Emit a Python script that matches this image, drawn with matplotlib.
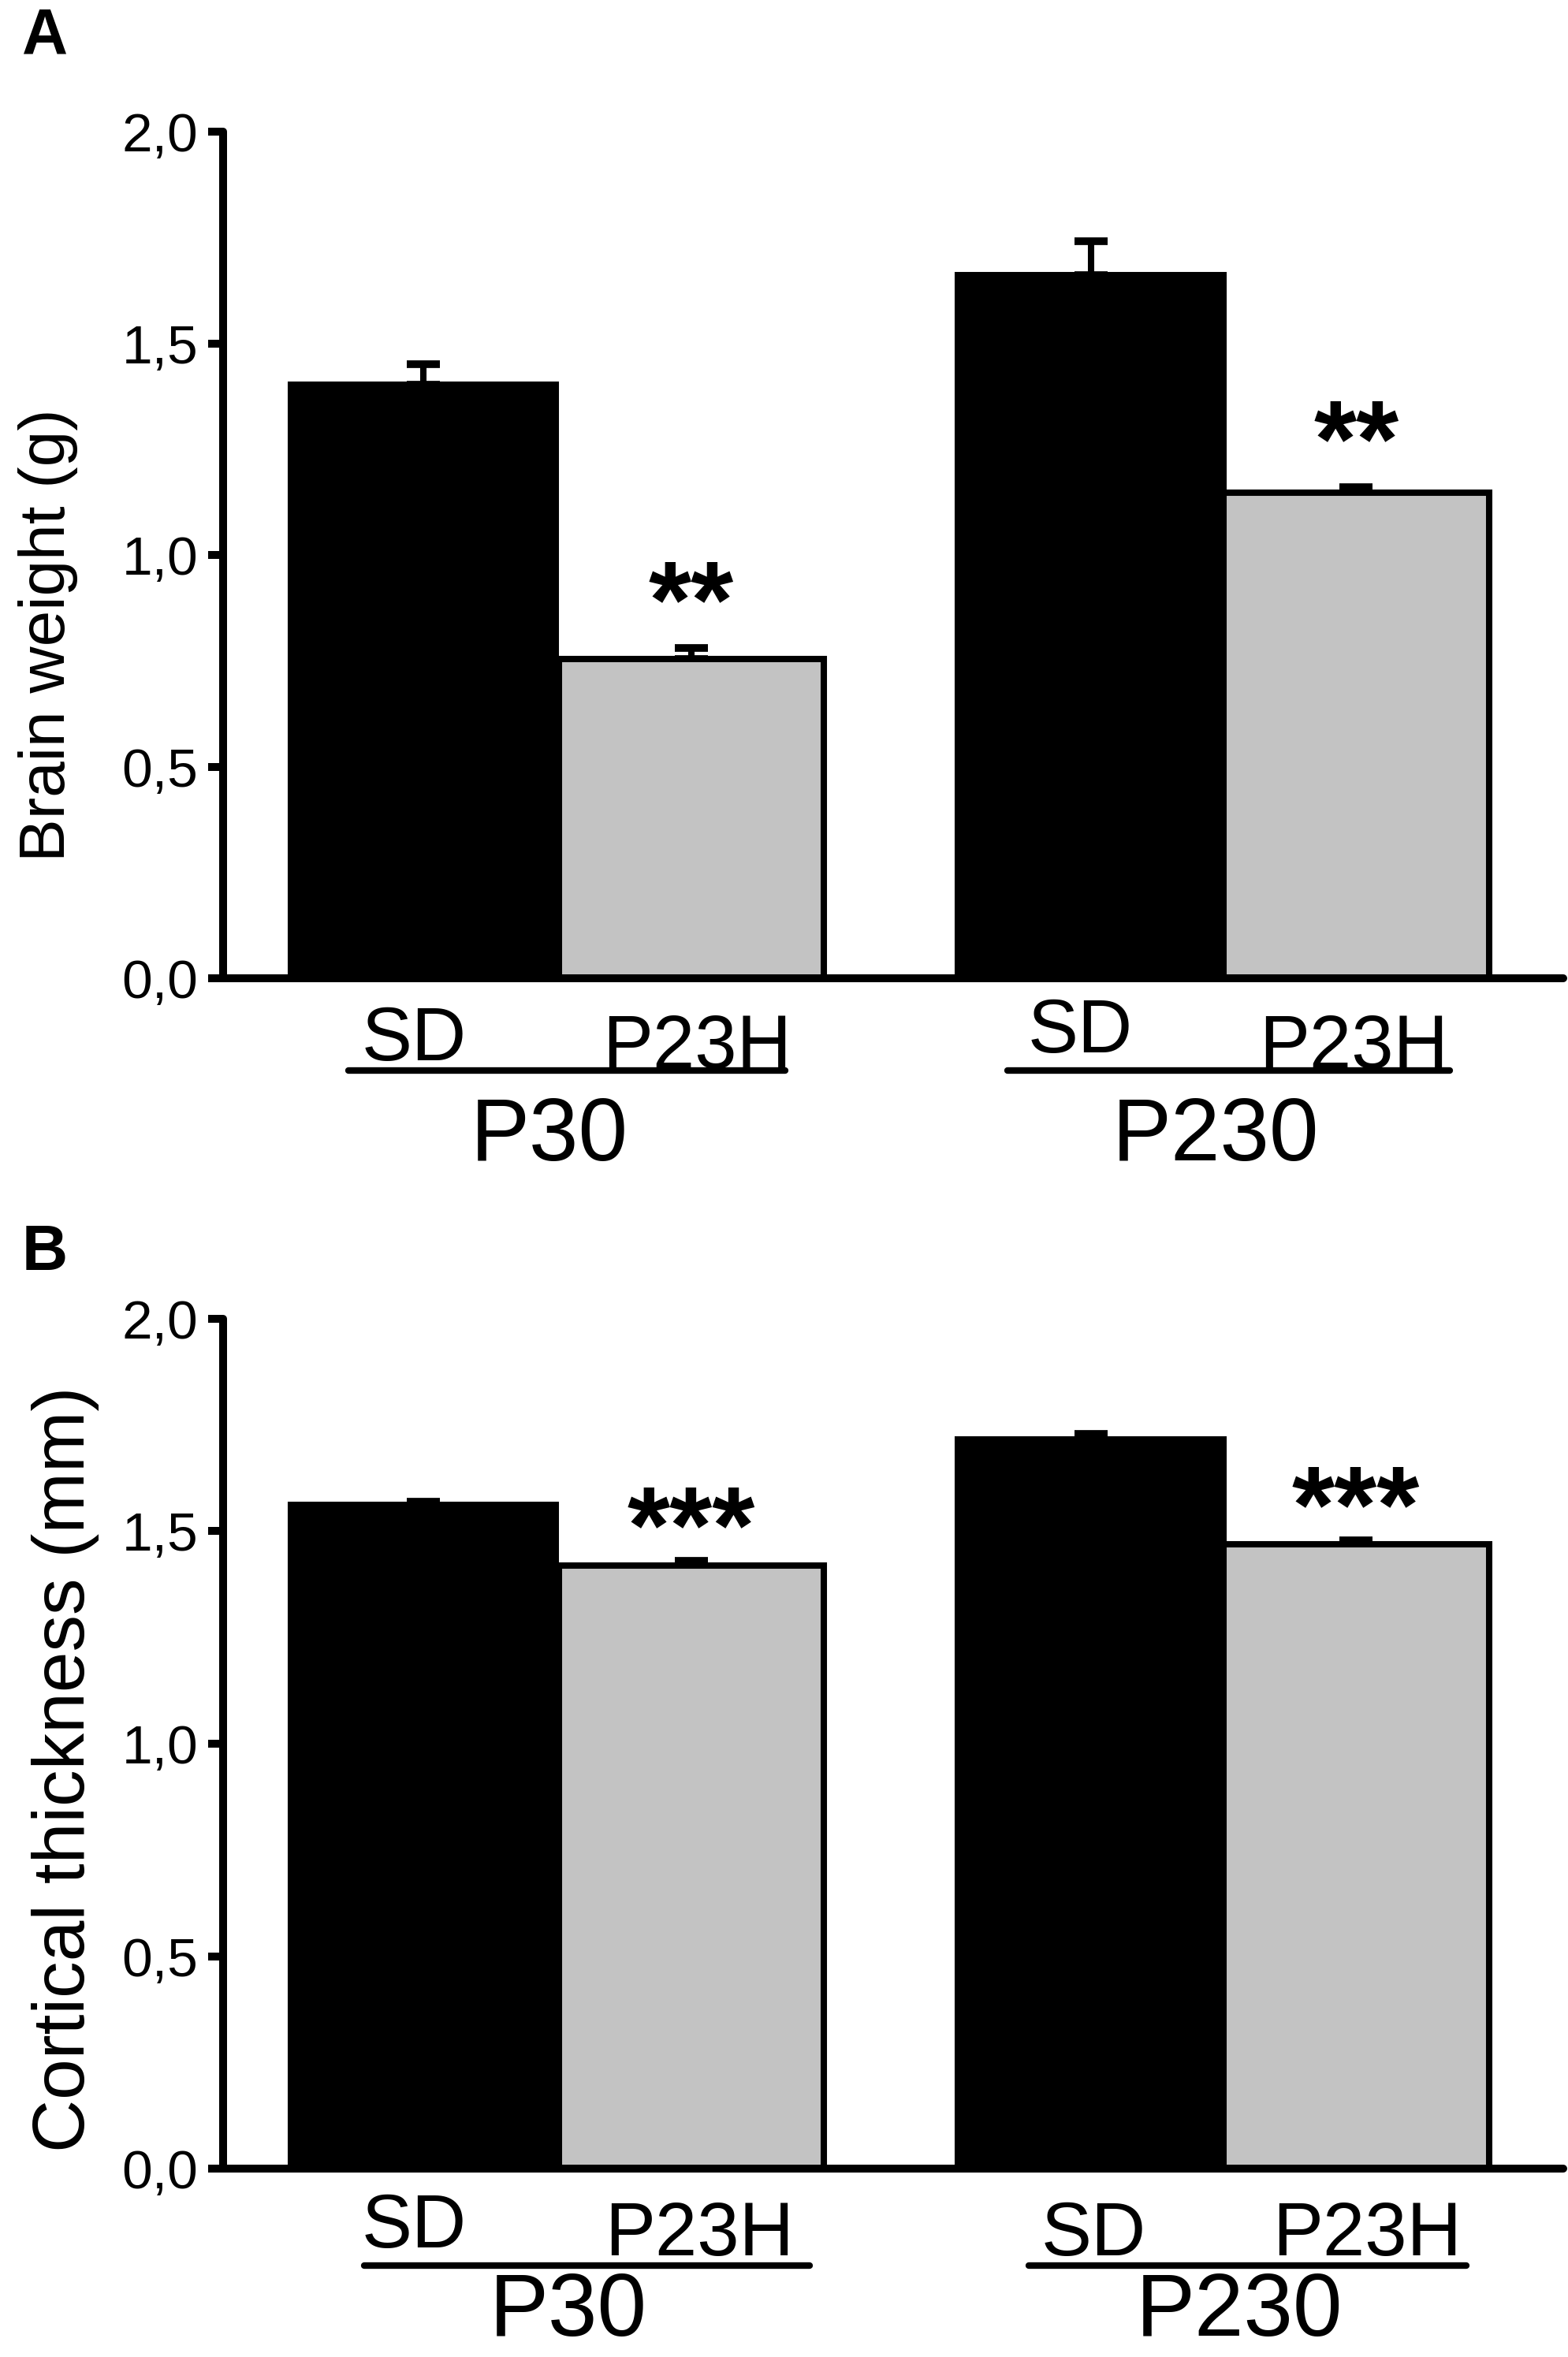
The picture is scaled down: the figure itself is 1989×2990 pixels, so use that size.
import matplotlib
matplotlib.use("Agg")
import matplotlib.pyplot as plt
from matplotlib.transforms import blended_transform_factory

plt.rcParams["font.family"] = ["Liberation Sans", "DejaVu Sans"]

# data
groups = ["P30", "P230"]
strains = ["SD", "P23H", "SD", "P23H"]
bar_x = [0.0, 1.0, 2.49, 3.48]
bar_colors = ["black", "#c3c3c3", "black", "#c3c3c3"]

brain_mean = [1.402, 0.755, 1.662, 1.147]
brain_sem = [0.048, 0.025, 0.080, 0.013]
brain_stars = ["", "**", "", "**"]

cortex_mean = [1.562, 1.419, 1.716, 1.469]
cortex_sem = [0.008, 0.012, 0.013, 0.010]
cortex_stars = ["", "***", "", "***"]

yticks = [0.0, 0.5, 1.0, 1.5, 2.0]
ytick_labels = ["0,0", "0,5", "1,0", "1,5", "2,0"]


def draw_panel(ax, means, sems, stars, ylabel, lab):
    ax.bar(bar_x, means, width=0.99, color=bar_colors, edgecolor="black",
           linewidth=5.8, zorder=2)
    ax.errorbar(bar_x, means, yerr=[[0] * len(sems), sems], fmt="none",
                ecolor="black", elinewidth=5.8, capsize=15, capthick=7,
                zorder=1)

    # significance stars above the P23H bars
    for x, m, s, st in zip(bar_x, means, sems, stars):
        if st:
            ax.annotate(st, (x, m + s), xytext=(0, lab["star_off"]),
                        textcoords="offset points", ha="center",
                        va="baseline", fontsize=100, fontweight="bold")

    ax.set_xlim(-0.747, 4.253)
    ax.set_ylim(0, 2.0)
    ax.set_xticks([])
    ax.set_yticks(yticks)
    ax.set_yticklabels(ytick_labels, fontsize=50)
    ax.tick_params(axis="y", length=14, width=7.2, pad=9)
    for side in ["top", "right"]:
        ax.spines[side].set_visible(False)
    for side in ["left", "bottom"]:
        ax.spines[side].set_linewidth(7.2)
        ax.spines[side].set_capstyle("round")

    ax.set_ylabel(ylabel, fontsize=lab["ylabel_size"])
    ax.yaxis.set_label_coords(lab["ylabel_x"], lab["ylabel_y"])

    # strain labels, group underline and group name
    tr = blended_transform_factory(ax.transData, ax.transAxes)
    for i, (x, name) in enumerate(zip(bar_x, strains)):
        ax.text(x + lab["strain_dx"][i], lab["strain_y"][i], name,
                transform=tr, ha="center", va="baseline", fontsize=69,
                clip_on=False)
    for g, name in enumerate(groups):
        x0, x1 = lab["line_x"][g]
        ax.plot([x0, x1], [lab["line_y"], lab["line_y"]], transform=tr,
                color="black", lw=6, solid_capstyle="round", clip_on=False)
        xc = (bar_x[2 * g] + bar_x[2 * g + 1]) / 2 + lab["group_dx"][g]
        ax.text(xc, lab["group_y"], name, transform=tr, ha="center",
                va=lab["group_va"], fontsize=81, clip_on=False)


fig = plt.figure(figsize=(19.89, 29.90), dpi=100)
ax_a = fig.add_axes([0.1423, 0.5849, 0.8547, 0.3592])
ax_b = fig.add_axes([0.1423, 0.0799, 0.8547, 0.3606])

layout_a = {
    "star_off": 10,
    "ylabel_size": 59, "ylabel_x": -0.108, "ylabel_y": 0.405,
    "strain_dx": [-0.035, 0.02, -0.04, -0.01],
    "strain_y": [-0.097, -0.106, -0.0875, -0.106],
    "line_x": [(-0.28, 1.35), (2.18, 3.83)],
    "line_y": -0.109,
    "group_dx": [-0.03, -0.03],
    "group_y": -0.215, "group_va": "baseline",
}
layout_b = {
    "star_off": -2,
    "ylabel_size": 67, "ylabel_x": -0.0925, "ylabel_y": 0.47,
    "strain_dx": [-0.035, 0.03, 0.01, 0.04],
    "strain_y": [-0.0928, -0.102, -0.102, -0.102],
    "line_x": [(-0.22, 1.44), (2.26, 3.89)],
    "line_y": -0.114,
    "group_dx": [0.04, 0.06],
    "group_y": -0.2185, "group_va": "bottom",
}

draw_panel(ax_a, brain_mean, brain_sem, brain_stars, "Brain weight (g)", layout_a)
draw_panel(ax_b, cortex_mean, cortex_sem, cortex_stars,
           "Cortical thickness (mm)", layout_b)

fig.text(0.014, 1 - 67 / 2990, "A", fontsize=58, fontweight="bold", va="baseline")
fig.text(0.014, 1 - 1611 / 2990, "B", fontsize=58, fontweight="bold", va="baseline")

fig.savefig("out.png", dpi=100)
plt.close(fig)
